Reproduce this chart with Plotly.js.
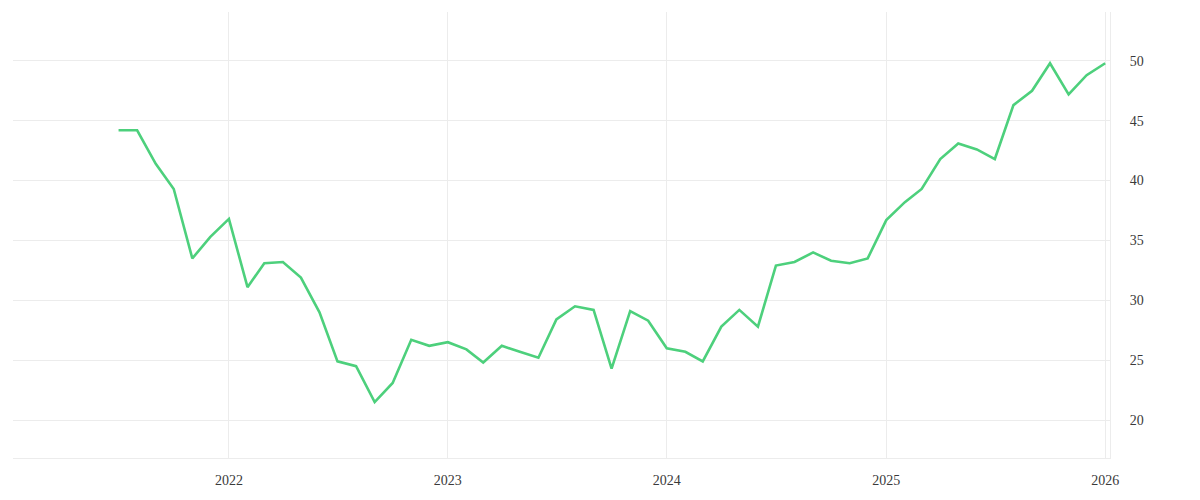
<!DOCTYPE html>
<html>
<head>
<meta charset="utf-8">
<script src="https://cdn.plot.ly/plotly-3.0.1.min.js"></script>
<style>
  html, body { margin: 0; padding: 0; background: #fff; }
  #chart { width: 1200px; height: 500px; }
</style>
</head>
<body>
<div id="chart"></div>
<script>
// monthly values, Jul 2021 .. Jan 2026
var months = [
  '2021-07-01', '2021-08-01', '2021-09-01', '2021-10-01', '2021-11-01', '2021-12-01',
  '2022-01-01', '2022-02-01', '2022-03-01', '2022-04-01', '2022-05-01', '2022-06-01',
  '2022-07-01', '2022-08-01', '2022-09-01', '2022-10-01', '2022-11-01', '2022-12-01',
  '2023-01-01', '2023-02-01', '2023-03-01', '2023-04-01', '2023-05-01', '2023-06-01',
  '2023-07-01', '2023-08-01', '2023-09-01', '2023-10-01', '2023-11-01', '2023-12-01',
  '2024-01-01', '2024-02-01', '2024-03-01', '2024-04-01', '2024-05-01', '2024-06-01',
  '2024-07-01', '2024-08-01', '2024-09-01', '2024-10-01', '2024-11-01', '2024-12-01',
  '2025-01-01', '2025-02-01', '2025-03-01', '2025-04-01', '2025-05-01', '2025-06-01',
  '2025-07-01', '2025-08-01', '2025-09-01', '2025-10-01', '2025-11-01', '2025-12-01',
  '2026-01-01'
];
var values = [
  44.2, 44.2, 41.4, 39.3, 33.5, 35.3,
  36.8, 31.1, 33.1, 33.2, 31.9, 29.0,
  24.9, 24.5, 21.5, 23.1, 26.7, 26.2,
  26.5, 25.9, 24.8, 26.2, 25.7, 25.2,
  28.4, 29.5, 29.2, 24.3, 29.1, 28.3,
  26.0, 25.7, 24.9, 27.8, 29.2, 27.8,
  32.9, 33.2, 34.0, 33.3, 33.1, 33.5,
  36.7, 38.2, 39.3, 41.8, 43.1, 42.6,
  41.8, 46.3, 47.5, 49.8, 47.2, 48.8,
  49.8
];
var yTicks = [20, 25, 30, 35, 40, 45, 50];
var xTicks = ['2022-01-01', '2023-01-01', '2024-01-01', '2025-01-01', '2026-01-01'];
var xTickText = ['2022', '2023', '2024', '2025', '2026'];

var gridColor = '#ececec';
var tickFont = {
  family: 'Liberation Serif, DejaVu Serif, serif',
  size: 14,
  color: '#3a3a3a'
};

var layout = {
  width: 1200,
  height: 500,
  showlegend: false,
  margin: {
    l: 13,
    r: 90,
    t: 12,
    b: 42,
    pad: 0
  },
  plot_bgcolor: '#ffffff',
  paper_bgcolor: '#ffffff',
  xaxis: {
    type: 'date',
    range: ['2021-01-06', '2026-01-09'],
    tickmode: 'array',
    tickvals: xTicks,
    ticktext: xTickText,
    showgrid: true,
    gridcolor: gridColor,
    gridwidth: 1,
    showline: true,
    linecolor: gridColor,
    linewidth: 1,
    zeroline: false,
    ticks: 'outside',
    ticklen: 9,
    tickcolor: 'rgba(0,0,0,0)',
    tickfont: tickFont
  },
  yaxis: {
    side: 'right',
    range: [16.83, 54.08],
    tickmode: 'array',
    tickvals: yTicks,
    showgrid: true,
    gridcolor: gridColor,
    gridwidth: 1,
    showline: true,
    linecolor: gridColor,
    linewidth: 1,
    zeroline: false,
    ticks: 'outside',
    ticklen: 16,
    tickcolor: 'rgba(0,0,0,0)',
    tickfont: tickFont
  }
};

var config = {
  displayModeBar: false,
  staticPlot: true
};

Plotly.newPlot('chart', [{
  x: months,
  y: values,
  type: 'scatter',
  mode: 'lines',
  line: {
    color: '#4dd07c',
    width: 2.6
  },
  hoverinfo: 'skip'
}], layout, config);
</script>
</body>
</html>
